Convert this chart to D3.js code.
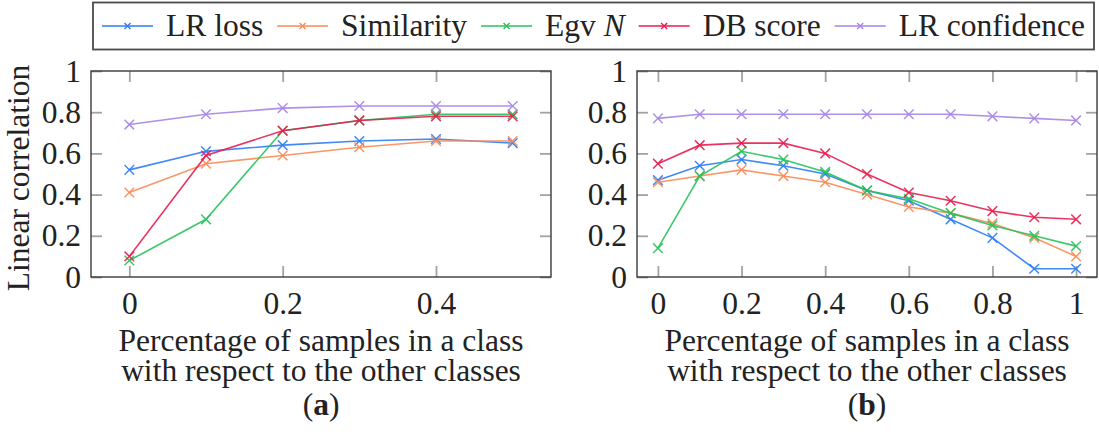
<!DOCTYPE html>
<html>
<head>
<meta charset="utf-8">
<script src="https://cdn.jsdelivr.net/npm/d3@7"></script>
<style>
  body { margin: 0; background: #fff; }
</style>
</head>
<body>
<svg id="chart" width="1099" height="435"></svg>
<script>
// series names + colours (legend order)
const seriesNames = ["LR loss", "Similarity", "Egv N", "DB score", "LR confidence"];
const seriesColors = ["#2c7cf6", "#f98b55", "#27c25b", "#e81d4f", "#a585e4"];

// panel (a)
const xValuesA = [0, 0.1, 0.2, 0.3, 0.4, 0.5];
const lrLossA = [0.52, 0.61, 0.64, 0.66, 0.67, 0.65];
const similarityA = [0.41, 0.55, 0.59, 0.63, 0.66, 0.66];
const egvA = [0.08, 0.28, 0.71, 0.76, 0.79, 0.79];
const dbScoreA = [0.10, 0.59, 0.71, 0.76, 0.78, 0.78];
const lrConfA = [0.74, 0.79, 0.82, 0.83, 0.83, 0.83];

// panel (b)
const xValuesB = [0, 0.1, 0.2, 0.3, 0.4, 0.5, 0.6, 0.7, 0.8, 0.9, 1];
const lrLossB = [0.47, 0.54, 0.57, 0.54, 0.50, 0.42, 0.37, 0.28, 0.19, 0.04, 0.04];
const similarityB = [0.46, 0.49, 0.52, 0.49, 0.46, 0.40, 0.34, 0.31, 0.26, 0.19, 0.10];
const egvB = [0.14, 0.49, 0.61, 0.57, 0.51, 0.42, 0.38, 0.31, 0.25, 0.20, 0.15];
const dbScoreB = [0.55, 0.64, 0.65, 0.65, 0.60, 0.50, 0.41, 0.37, 0.32, 0.29, 0.28];
const lrConfB = [0.77, 0.79, 0.79, 0.79, 0.79, 0.79, 0.79, 0.79, 0.78, 0.77, 0.76];

// ticks
const yTicks = [0, 0.2, 0.4, 0.6, 0.8, 1];
const xTicksA = [0, 0.2, 0.4];
const xTicksB = [0, 0.2, 0.4, 0.6, 0.8, 1];

const xLabelLines = ["Percentage of samples in a class", "with respect to the other classes"];
const yLabel = "Linear correlation";

const FONT = "'Liberation Serif', 'Times New Roman', 'DejaVu Serif', serif";
const svg = d3.select("#chart").attr("font-family", FONT);
const fontSize = 31.5;
const tickLen = 11;

function crossPath(s) {
    return `M${-s},${-s}L${s},${s}M${-s},${s}L${s},${-s}`;
}

function drawPanel(opts) {
    const w = opts.right - opts.left;
    const h = opts.bottom - opts.top;
    const g = svg.append("g").attr("transform", `translate(${opts.left}, ${opts.top})`);

    const xScale = d3.scaleLinear().domain(opts.xDomain).range([0, w]);
    const yScale = d3.scaleLinear().domain([0, 1]).range([h, 0]);
    const fmt = d => d3.format("~g")(d);

    // inward ticks on all four sides
    const axes = [
        { axis: d3.axisBottom(xScale).tickValues(opts.xTicks).tickFormat(fmt).tickPadding(15), t: `translate(0, ${h})` },
        { axis: d3.axisTop(xScale).tickValues(opts.xTicks).tickFormat(""), t: "translate(0, 0)" },
        { axis: d3.axisLeft(yScale).tickValues(yTicks).tickFormat(fmt).tickPadding(10), t: "translate(0, 0)" },
        { axis: d3.axisRight(yScale).tickValues(yTicks).tickFormat(""), t: `translate(${w}, 0)` }
    ];
    axes.forEach(a => {
        const ag = g.append("g")
            .attr("transform", a.t)
            .call(a.axis.tickSizeInner(-tickLen).tickSizeOuter(0))
            .call(s => s.select(".domain").remove());
        ag.selectAll(".tick line").attr("stroke", "#a3a3a3").attr("stroke-width", 1.8);
        ag.attr("font-family", FONT).attr("font-size", fontSize);
        ag.selectAll(".tick text").attr("fill", "#222");
    });

    const line = d3.line()
        .x(d => xScale(d[0]))
        .y(d => yScale(d[1]));

    opts.series.forEach((vals, i) => {
        const pts = opts.xValues.map((x, j) => [x, vals[j]]);
        const sg = g.append("g");
        sg.append("path")
            .datum(pts)
            .attr("d", line)
            .attr("fill", "none")
            .attr("stroke", seriesColors[i])
            .attr("stroke-width", 1.6)
            .attr("stroke-opacity", 0.9);
        sg.selectAll("path.mk")
            .data(pts)
            .enter()
            .append("path")
            .attr("class", "mk")
            .attr("transform", d => `translate(${xScale(d[0])}, ${yScale(d[1])})`)
            .attr("d", crossPath(4.8))
            .attr("fill", "none")
            .attr("stroke", seriesColors[i])
            .attr("stroke-width", 1.5)
            .attr("stroke-opacity", 0.9);
    });

    g.append("rect")
        .attr("width", w)
        .attr("height", h)
        .attr("fill", "none")
        .attr("stroke", "#3a3a3a")
        .attr("stroke-width", 1.4);

    // x axis title (two lines, one text element) + sub caption
    const cx = w / 2;
    const tg = g.append("g").attr("font-size", fontSize).attr("fill", "#222").attr("text-anchor", "middle");
    const title = tg.append("text").attr("y", h + 74);
    xLabelLines.forEach((txt, k) => {
        title.append("tspan")
            .attr("x", cx)
            .attr("dy", k === 0 ? 0 : 30)
            .text(txt);
    });
    const cap = tg.append("text").attr("x", cx).attr("y", h + 74 + 64);
    cap.append("tspan").text("(");
    cap.append("tspan").attr("font-weight", "bold").text(opts.caption);
    cap.append("tspan").text(")");

    return g;
}

drawPanel({
    left: 91, right: 551, top: 71, bottom: 277,
    xDomain: [-0.05, 0.55],
    xTicks: xTicksA,
    xValues: xValuesA,
    series: [lrLossA, similarityA, egvA, dbScoreA, lrConfA],
    caption: "a"
});

drawPanel({
    left: 637, right: 1097, top: 71, bottom: 277,
    xDomain: [-0.05, 1.05],
    xTicks: xTicksB,
    xValues: xValuesB,
    series: [lrLossB, similarityB, egvB, dbScoreB, lrConfB],
    caption: "b"
});

// y axis title
svg.append("text")
    .attr("transform", "translate(28.5, 178) rotate(-90)")
    .attr("text-anchor", "middle")
    .attr("font-size", fontSize)
    .attr("fill", "#222")
    .text(yLabel);

// legend
const legBox = { left: 93, right: 1094, top: 2.5, bottom: 49.5 };
const legend = svg.append("g");
legend.append("rect")
    .attr("x", legBox.left)
    .attr("y", legBox.top)
    .attr("width", legBox.right - legBox.left)
    .attr("height", legBox.bottom - legBox.top)
    .attr("fill", "#fff")
    .attr("stroke", "#4a4a4a")
    .attr("stroke-width", 1.8);

const sampleW = 51, sampleGap = 13;
const items = seriesNames.map((name, i) => {
    const ig = legend.append("g");
    ig.append("line")
        .attr("x1", 0).attr("x2", sampleW)
        .attr("y1", 0).attr("y2", 0)
        .attr("stroke", seriesColors[i])
        .attr("stroke-width", 1.6);
    ig.append("path")
        .attr("transform", `translate(${sampleW / 2}, 0)`)
        .attr("d", crossPath(3))
        .attr("fill", "none")
        .attr("stroke", seriesColors[i])
        .attr("stroke-width", 1.4);
    const t = ig.append("text")
        .attr("x", sampleW + sampleGap)
        .attr("y", 10)
        .attr("font-size", fontSize)
        .attr("fill", "#222");
    if (name === "Egv N") {
        t.append("tspan").text("Egv ");
        t.append("tspan").attr("font-style", "italic").text("N");
    } else {
        t.text(name);
    }
    return { g: ig, w: t.node().getComputedTextLength() };
});

const startX = 102, endX = 1085;
const used = d3.sum(items, d => sampleW + sampleGap + d.w);
const gap = (endX - startX - used) / (items.length - 1);
let cursor = startX;
items.forEach(it => {
    it.g.attr("transform", `translate(${cursor}, 26)`);
    cursor += sampleW + sampleGap + it.w + gap;
});
</script>
</body>
</html>
